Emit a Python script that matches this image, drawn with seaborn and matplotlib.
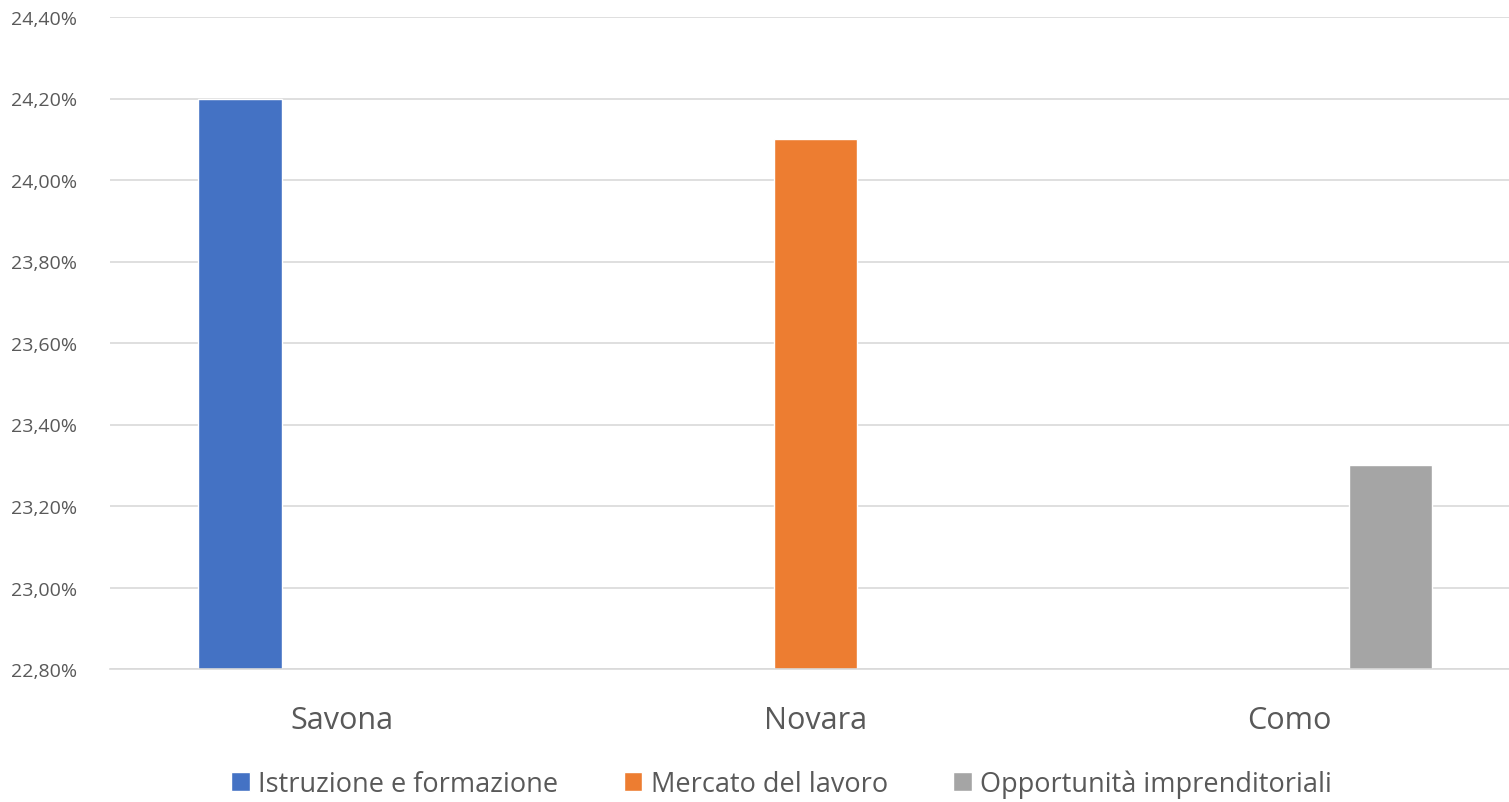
import pandas as pd
import matplotlib.pyplot as plt
import matplotlib.ticker as mticker
import seaborn as sns

# data
province = ['Savona', 'Novara', 'Como']
ambiti = ['Istruzione e formazione', 'Mercato del lavoro', 'Opportunità imprenditoriali']
valori = [24.20, 24.10, 23.30]
colori = ['#4472C4', '#ED7D31', '#A5A5A5']

df = pd.DataFrame({'provincia': province, 'ambito': ambiti, 'valore': valori})

sns.set_style('white')
plt.rcParams['font.family'] = ['Open Sans', 'DejaVu Sans']

fig = plt.figure(figsize=(15.09, 8.03), dpi=100)
ax = fig.add_axes([110 / 1509, 1 - 670 / 803, 1 - 110 / 1509, (670 - 18) / 803])

sns.barplot(data=df, x='provincia', y='valore', hue='ambito', order=province,
            hue_order=ambiti, palette=colori, width=0.645, gap=0.18, dodge=True,
            saturation=1, ax=ax)

ax.set_ylim(22.8, 24.4)
ax.set_xlim(-0.49, 2.465)
ax.yaxis.set_major_locator(mticker.MultipleLocator(0.2))
ax.yaxis.set_major_formatter(mticker.FuncFormatter(lambda v, p: f'{v:.2f}%'.replace('.', ',')))
ax.grid(axis='y', color='#D9D9D9', linewidth=1.2)
ax.set_axisbelow(True)
for s in ['top', 'right', 'left']:
    ax.spines[s].set_visible(False)
ax.spines['bottom'].set_color('#D9D9D9')
ax.spines['bottom'].set_linewidth(1.2)
ax.tick_params(axis='y', labelsize=14, colors='#595959', length=0, pad=24)
ax.tick_params(axis='x', labelsize=22, colors='#595959', length=0, pad=26)
ax.set_xlabel('')
ax.set_ylabel('')

ax.legend(loc='lower center', bbox_to_anchor=(0.48, -0.235), ncol=3, frameon=False,
          fontsize=19.5, handlelength=0.7, handleheight=0.7, handletextpad=0.3,
          columnspacing=2.4, labelcolor='#595959')

fig.savefig('out.png', dpi=100)
